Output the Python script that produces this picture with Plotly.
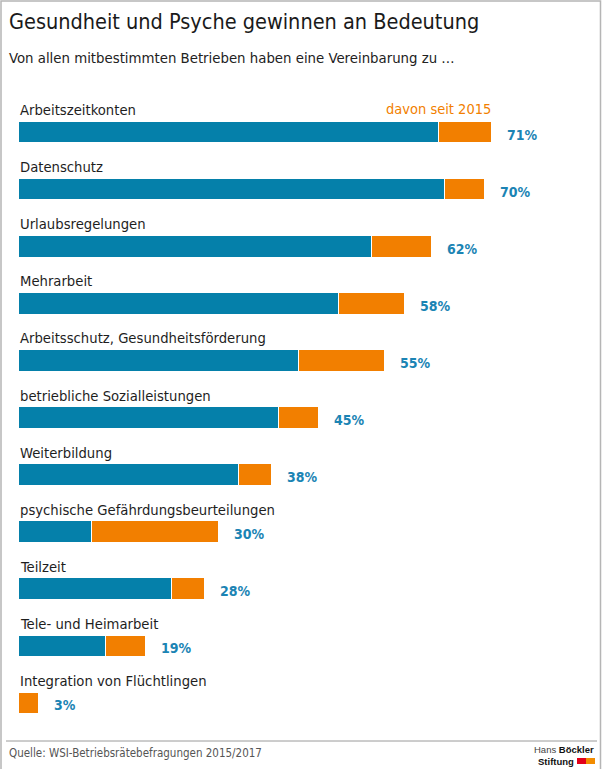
import plotly.graph_objects as go

categories = [
    "Arbeitszeitkonten", "Datenschutz", "Urlaubsregelungen", "Mehrarbeit",
    "Arbeitsschutz, Gesundheitsförderung", "betriebliche Sozialleistungen",
    "Weiterbildung", "psychische Gefährdungsbeurteilungen", "Teilzeit",
    "Tele- und Heimarbeit", "Integration von Flüchtlingen",
]
totals = [71, 70, 62, 58, 55, 45, 38, 30, 28, 19, 3]
before_2015 = [63, 64, 53, 48, 42, 39, 33, 11, 23, 13, 0]
since_2015 = [8, 6, 9, 10, 13, 6, 5, 19, 5, 6, 3]
pct_labels = [f"{v}%" for v in totals]

BLUE = "#0580aa"
ORANGE = "#f27f00"
PCT_BLUE = "#1b84b4"
TXT = "#1e1e1e"
NARROW = "Liberation Sans Narrow, DejaVu Sans Condensed, Arial Narrow, sans-serif"

W_FIG, H_FIG = 602, 769
L, R, T, B = 19, 7, 104, 37
PW, PH = W_FIG - L - R, H_FIG - T - B


def px(x):
    return (x - L) / PW


def py(y):
    return 1 - (y - T) / PH


fig = go.Figure()
fig.add_trace(go.Bar(
    y=categories, x=before_2015, orientation="h", marker_color=BLUE,
    marker_line=dict(color="white", width=1), width=0.38, name="bis 2015",
    hoverinfo="skip",
))
fig.add_trace(go.Bar(
    y=categories, x=since_2015, orientation="h", marker_color=ORANGE,
    marker_line=dict(color="white", width=1), width=0.38, name="davon seit 2015",
    hoverinfo="skip",
))

annotations = []
for cat, tot, lab in zip(categories, totals, pct_labels):
    annotations.append(dict(
        x=0, y=cat, xref="x", yref="y", text=cat, showarrow=False,
        xanchor="left", yanchor="middle", yshift=23, xshift=-1,
        font=dict(family=NARROW, size=14.7, color=TXT),
    ))
    annotations.append(dict(
        x=tot, y=cat, xref="x", yref="y", text=f"<b>{lab}</b>", showarrow=False,
        xanchor="left", yanchor="middle", xshift=13, yshift=-2,
        font=dict(family=NARROW, size=14, color=PCT_BLUE),
    ))

# legend-like label for the orange segment
annotations.append(dict(
    x=totals[0], y=categories[0], xref="x", yref="y", text="davon seit 2015",
    showarrow=False, xanchor="right", yanchor="middle", yshift=24, xshift=1,
    font=dict(family=NARROW, size=14.5, color=ORANGE),
))

# title & subtitle
annotations.append(dict(
    x=px(7), y=py(22), xref="paper", yref="paper", text="Gesundheit und Psyche gewinnen an Bedeutung",
    showarrow=False, xanchor="left", yanchor="middle",
    font=dict(family=NARROW, size=21.5, color="#1a1a1a"),
))
annotations.append(dict(
    x=px(7), y=py(58), xref="paper", yref="paper",
    text="Von allen mitbestimmten Betrieben haben eine Vereinbarung zu …",
    showarrow=False, xanchor="left", yanchor="middle",
    font=dict(family=NARROW, size=14.8, color="#222222"),
))
# source
annotations.append(dict(
    x=px(7), y=py(753), xref="paper", yref="paper",
    text="Quelle: WSI-Betriebsrätebefragungen 2015/2017",
    showarrow=False, xanchor="left", yanchor="middle",
    font=dict(family=NARROW, size=11.5, color="#555555"),
))
# logo text
annotations.append(dict(
    x=px(596), y=py(749), xref="paper", yref="paper",
    text="<span style='color:#444'>Hans</span> <b>Böckler</b>",
    showarrow=False, xanchor="right", yanchor="middle",
    font=dict(family="Liberation Sans, Arial, sans-serif", size=9.5, color="#111111"),
))
annotations.append(dict(
    x=px(536), y=py(761), xref="paper", yref="paper", text="<b>Stiftung</b>",
    showarrow=False, xanchor="left", yanchor="middle",
    font=dict(family="Liberation Sans, Arial, sans-serif", size=9.5, color="#111111"),
))

shapes = [
    # outer frame
    dict(type="rect", xref="paper", yref="paper", x0=px(1), x1=px(600.5), y0=py(800), y1=py(1),
         line=dict(color="#b5b5b5", width=1.5), fillcolor="rgba(0,0,0,0)", layer="below"),
    # footer rule
    dict(type="line", xref="paper", yref="paper", x0=px(6), x1=px(597), y0=py(741), y1=py(741),
         line=dict(color="#9a9a9a", width=1)),
    # logo squares
    dict(type="rect", xref="paper", yref="paper", x0=px(577), x1=px(586), y0=py(764), y1=py(758),
         line=dict(width=0), fillcolor="#e2001a"),
    dict(type="rect", xref="paper", yref="paper", x0=px(586), x1=px(595), y0=py(764), y1=py(758),
         line=dict(width=0), fillcolor="#f28c00"),
]

fig.update_layout(
    width=W_FIG, height=H_FIG, barmode="stack", showlegend=False,
    margin=dict(l=L, r=R, t=T, b=B, pad=0),
    paper_bgcolor="white", plot_bgcolor="white",
    xaxis=dict(range=[0, PW / 6.66], visible=False, fixedrange=True),
    yaxis=dict(categoryorder="array", categoryarray=categories, range=[10.5, -0.5],
               visible=False, fixedrange=True),
    annotations=annotations, shapes=shapes,
    bargap=0,
)

fig.write_html("out.html", config={"displayModeBar": False},
               post_script="document.body.style.margin='0';")
